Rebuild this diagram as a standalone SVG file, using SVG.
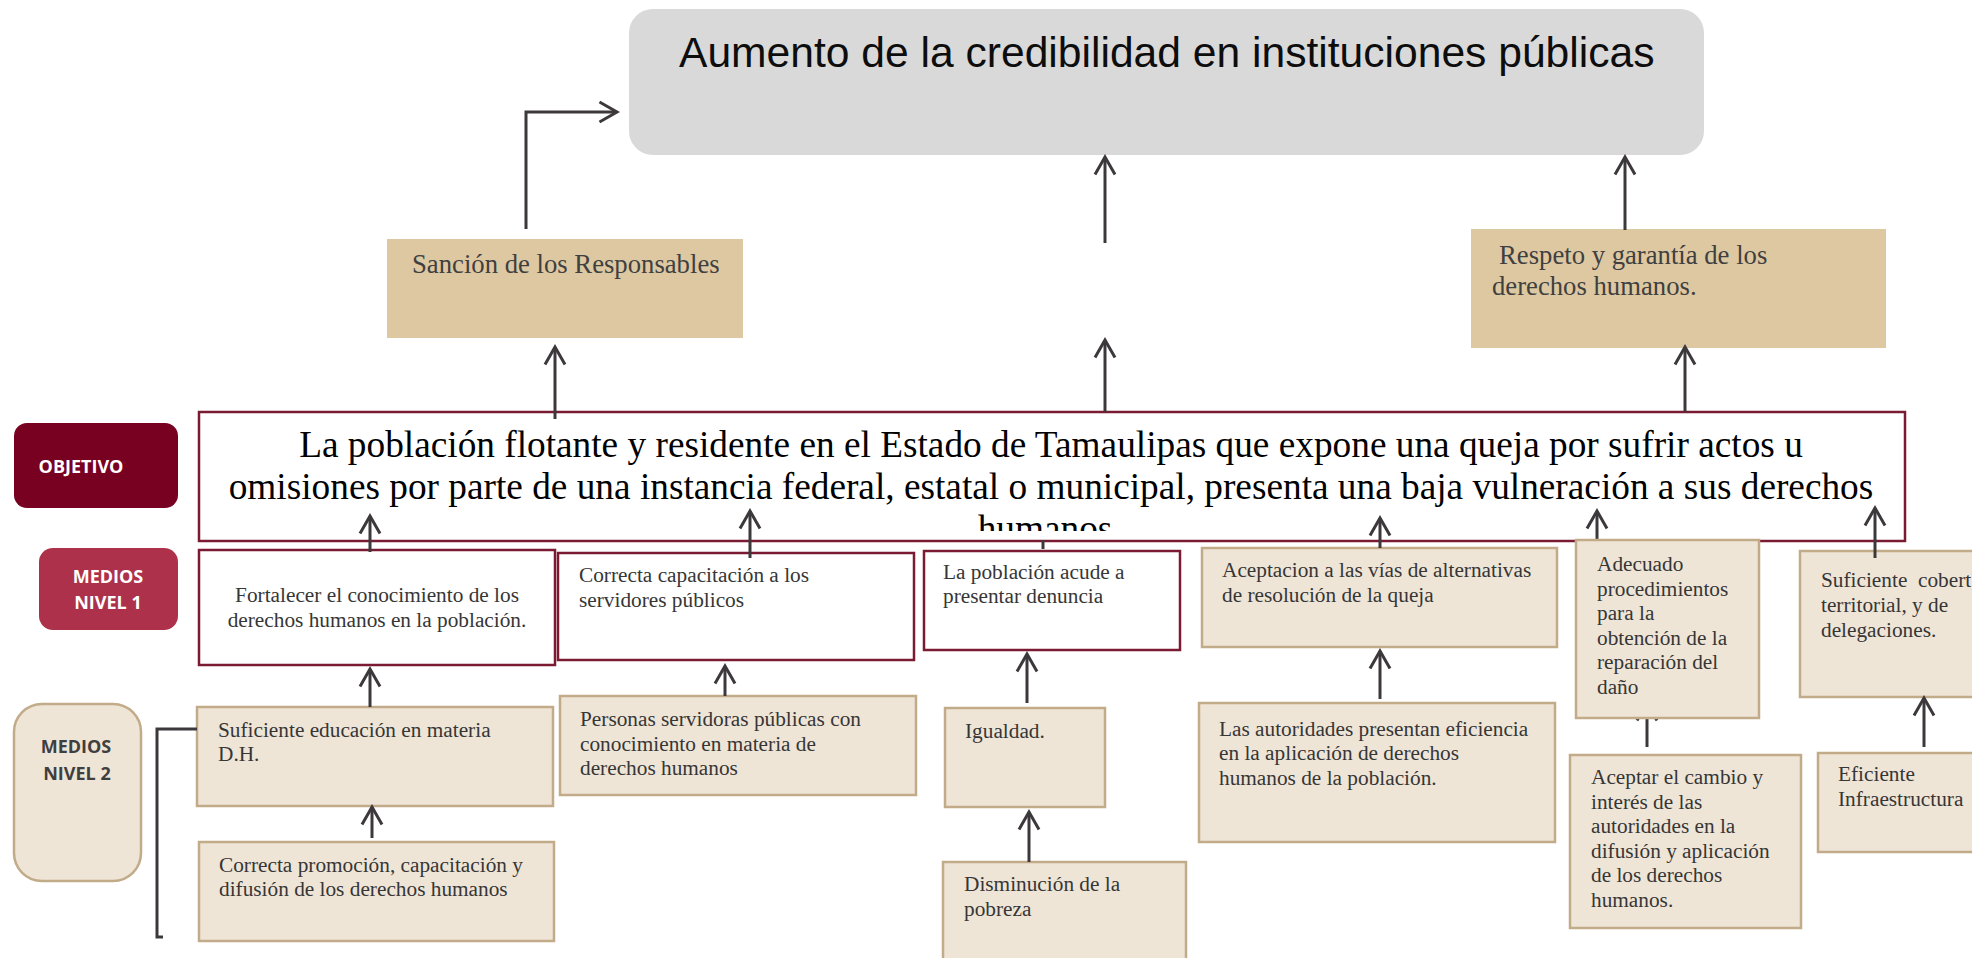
<svg xmlns="http://www.w3.org/2000/svg" width="1972" height="958" viewBox="0 0 1972 958">
<defs>
<style>
.lbl{font-family:"Open Sans","Liberation Sans",sans-serif;font-weight:bold;font-size:18px;text-anchor:middle}
.t{font-family:"Liberation Serif","Times New Roman",serif;font-size:21.3px;fill:#363636}
.big{font-family:"Liberation Serif","Times New Roman",serif;font-size:26.7px;fill:#404040}
.obj{font-family:"Liberation Serif","Times New Roman",serif;font-size:37.3px;fill:#000;text-anchor:middle}
.wbox{fill:#fff;stroke:#7B1A33;stroke-width:2.5}
.tbox{fill:#EFE5D7;stroke:#C2AB88;stroke-width:2.5}
.sbox{fill:#DDC8A2}
.con{fill:none;stroke:#3D383B;stroke-width:3}
</style>
<marker id="ah" markerUnits="userSpaceOnUse" markerWidth="22" markerHeight="24" viewBox="0 0 22 24" refX="19" refY="12" orient="auto">
<path d="M1.5,2 L19,12 L1.5,22" fill="none" stroke="#3D383B" stroke-width="3"/>
</marker>
<clipPath id="objclip"><rect x="199" y="412" width="1706" height="119"/></clipPath>
</defs>
<rect width="1972" height="958" fill="#fff"/>

<g id="top">
<rect x="629" y="9" width="1075" height="146" rx="24" fill="#D9D9D9"/>
<text x="679" y="67" font-family="Liberation Sans, Arial, sans-serif" font-size="42.6" fill="#0d0d0d">Aumento de la credibilidad en instituciones públicas</text>
</g>

<g id="sancion">
<rect class="sbox" x="387" y="239" width="356" height="99"/>
<text class="big" x="412" y="273">Sanción de los Responsables</text>
</g>

<g id="respeto">
<rect class="sbox" x="1471" y="229" width="415" height="119"/>
<text class="big"><tspan x="1499" y="264">Respeto y garantía de los</tspan><tspan x="1492" y="295">derechos humanos.</tspan></text>
</g>

<g id="lbl-objetivo">
<rect x="14" y="423" width="164" height="85" rx="13" fill="#780021"/>
<text class="lbl" x="81" y="473" fill="#fff">OBJETIVO</text>
</g>

<g id="lbl-medios1">
<rect x="39" y="548" width="139" height="82" rx="14" fill="#AD314A"/>
<text class="lbl" fill="#fff"><tspan x="108" y="583">MEDIOS</tspan><tspan x="108" y="609">NIVEL 1</tspan></text>
</g>

<g id="lbl-medios2">
<rect x="14" y="704" width="127" height="177" rx="28" fill="#EFE5D7" stroke="#C2AB88" stroke-width="2.5"/>
<text class="lbl" fill="#3F3F3F"><tspan x="76" y="753">MEDIOS</tspan><tspan x="77" y="780">NIVEL 2</tspan></text>
</g>

<g id="objetivo">
<rect class="wbox" x="199" y="412" width="1706" height="129"/>
<g clip-path="url(#objclip)">
<text class="obj"><tspan x="1051" y="457">La población flotante y residente en el Estado de Tamaulipas que expone una queja por sufrir actos u</tspan><tspan x="1051" y="499">omisiones por parte de una instancia federal, estatal o municipal, presenta una baja vulneración a sus derechos</tspan><tspan x="1045" y="541">humanos</tspan></text>
</g>
</g>

<g id="n1-fortalecer">
<rect class="wbox" x="199" y="550" width="356" height="115"/>
<text class="t" text-anchor="middle"><tspan x="377" y="602">Fortalecer el conocimiento de los</tspan><tspan x="377" y="627">derechos humanos en la población.</tspan></text>
</g>

<g id="n1-capacitacion">
<rect class="wbox" x="558" y="553" width="356" height="107"/>
<text class="t"><tspan x="579" y="582">Correcta capacitación a los</tspan><tspan x="579" y="607">servidores públicos</tspan></text>
</g>

<g id="n1-denuncia">
<rect class="wbox" x="924" y="551" width="256" height="99"/>
<text class="t"><tspan x="943" y="579">La población acude a</tspan><tspan x="943" y="603">presentar denuncia</tspan></text>
</g>

<g id="n1-aceptacion">
<rect class="tbox" x="1202" y="548" width="355" height="99"/>
<text class="t"><tspan x="1222" y="577">Aceptacion a las vías de alternativas</tspan><tspan x="1222" y="602">de resolución de la queja</tspan></text>
</g>

<g id="n1-cobertura">
<rect class="tbox" x="1800" y="551" width="200" height="146"/>
<text class="t" xml:space="preserve"><tspan x="1821" y="587">Suficiente  cobert</tspan><tspan x="1821" y="612">territorial, y de</tspan><tspan x="1821" y="637">delegaciones.</tspan></text>
</g>

<g id="n2-educacion">
<rect class="tbox" x="197" y="707" width="356" height="99"/>
<text class="t"><tspan x="218" y="737">Suficiente educación en materia</tspan><tspan x="218" y="761">D.H.</tspan></text>
</g>

<g id="n2-promocion">
<rect class="tbox" x="199" y="842" width="355" height="99"/>
<text class="t"><tspan x="219" y="872">Correcta promoción, capacitación y</tspan><tspan x="219" y="896">difusión de los derechos humanos</tspan></text>
</g>

<g id="n2-personas">
<rect class="tbox" x="560" y="696" width="356" height="99"/>
<text class="t"><tspan x="580" y="726">Personas servidoras públicas con</tspan><tspan x="580" y="750.5">conocimiento en materia de</tspan><tspan x="580" y="775">derechos humanos</tspan></text>
</g>

<g id="n2-igualdad">
<rect class="tbox" x="945" y="708" width="160" height="99"/>
<text class="t" x="965" y="738">Igualdad.</text>
</g>

<g id="n2-pobreza">
<rect class="tbox" x="943" y="862" width="243" height="120"/>
<text class="t"><tspan x="964" y="891">Disminución de la</tspan><tspan x="964" y="916">pobreza</tspan></text>
</g>

<g id="n2-autoridades">
<rect class="tbox" x="1199" y="703" width="356" height="139"/>
<text class="t"><tspan x="1219" y="736">Las autoridades presentan eficiencia</tspan><tspan x="1219" y="760">en la aplicación de derechos</tspan><tspan x="1219" y="785">humanos de la población.</tspan></text>
</g>

<g id="n2-cambio">
<rect class="tbox" x="1570" y="755" width="231" height="173"/>
<text class="t"><tspan x="1591" y="784">Aceptar el cambio y</tspan><tspan x="1591" y="809">interés de las</tspan><tspan x="1591" y="833">autoridades en la</tspan><tspan x="1591" y="858">difusión y aplicación</tspan><tspan x="1591" y="882">de los derechos</tspan><tspan x="1591" y="907">humanos.</tspan></text>
</g>

<g id="n2-infraestructura">
<rect class="tbox" x="1818" y="753" width="200" height="99"/>
<text class="t"><tspan x="1838" y="781">Eficiente</tspan><tspan x="1838" y="806">Infraestructura</tspan></text>
</g>

<g id="connectors" class="con">
<path d="M526,229 V112 H617" marker-end="url(#ah)"/>
<path d="M1105,243 V157" marker-end="url(#ah)"/>
<path d="M1105,412 V340" marker-end="url(#ah)"/>
<path d="M1625,230 V157" marker-end="url(#ah)"/>
<path d="M1685,412 V347" marker-end="url(#ah)"/>
<path d="M555,419 V347" marker-end="url(#ah)"/>
<path d="M370,552 V516" marker-end="url(#ah)"/>
<path d="M750,558 V511" marker-end="url(#ah)"/>
<path d="M1043,540 V549"/>
<path d="M1380,548 V518" marker-end="url(#ah)"/>
<path d="M1597,540 V511" marker-end="url(#ah)"/>
<path d="M1875,558 V508" marker-end="url(#ah)"/>
<path d="M370,707 V669" marker-end="url(#ah)"/>
<path d="M372,838 V807" marker-end="url(#ah)"/>
<path d="M725,696 V666" marker-end="url(#ah)"/>
<path d="M1027,703 V654" marker-end="url(#ah)"/>
<path d="M1029,862 V812" marker-end="url(#ah)"/>
<path d="M1380,699 V651" marker-end="url(#ah)"/>
<path d="M1647,747 V703" marker-end="url(#ah)"/>
<path d="M1924,747 V698" marker-end="url(#ah)"/>
<path d="M197,729 H157 V937 H163"/>
</g>

<g id="n1-reparacion">
<rect class="tbox" x="1576" y="540" width="183" height="178"/>
<text class="t"><tspan x="1597" y="571">Adecuado</tspan><tspan x="1597" y="596">procedimientos</tspan><tspan x="1597" y="620">para la</tspan><tspan x="1597" y="645">obtención de la</tspan><tspan x="1597" y="669">reparación del</tspan><tspan x="1597" y="694">daño</tspan></text>
</g>
</svg>
